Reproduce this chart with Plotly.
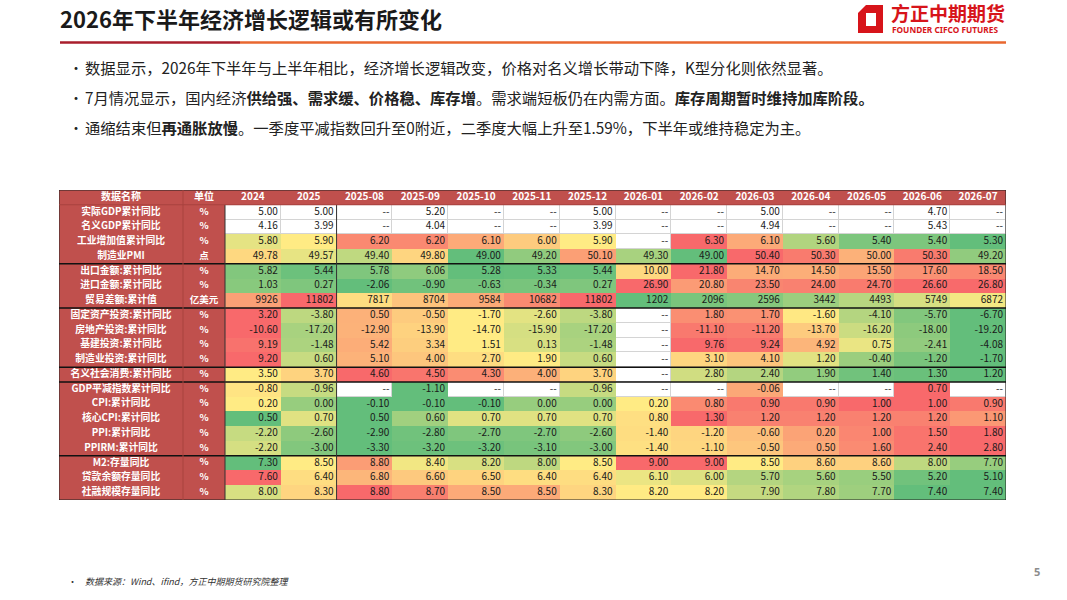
import numpy as np
import plotly.graph_objects as go

W, H = 1067, 600

# ---- data ----
periods = ["2024", "2025", "2025-08", "2025-09", "2025-10", "2025-11", "2025-12",
           "2026-01", "2026-02", "2026-03", "2026-04", "2026-05", "2026-06", "2026-07"]

indicators = ["实际GDP累计同比", "名义GDP累计同比", "工业增加值累计同比", "制造业PMI",
              "出口金额:累计同比", "进口金额:累计同比", "贸易差额:累计值",
              "固定资产投资:累计同比", "房地产投资:累计同比", "基建投资:累计同比", "制造业投资:累计同比",
              "名义社会消费:累计同比",
              "GDP平减指数累计同比", "CPI:累计同比", "核心CPI:累计同比", "PPI:累计同比", "PPIRM:累计同比",
              "M2:存量同比", "贷款余额存量同比", "社融规模存量同比"]
units = ["%", "%", "%", "点", "%", "%", "亿美元", "%", "%", "%", "%", "%",
         "%", "%", "%", "%", "%", "%", "%", "%"]

real_gdp = [5.00, 5.00, None, 5.20, None, None, 5.00, None, None, 5.00, None, None, 4.70, None]
nominal_gdp = [4.16, 3.99, None, 4.04, None, None, 3.99, None, None, 4.94, None, None, 5.43, None]
industry = [5.80, 5.90, 6.20, 6.20, 6.10, 6.00, 5.90, None, 6.30, 6.10, 5.60, 5.40, 5.40, 5.30]
pmi = [49.78, 49.57, 49.40, 49.80, 49.00, 49.20, 50.10, 49.30, 49.00, 50.40, 50.30, 50.00, 50.30, 49.20]
exports = [5.82, 5.44, 5.78, 6.06, 5.28, 5.33, 5.44, 10.00, 21.80, 14.70, 14.50, 15.50, 17.60, 18.50]
imports = [1.03, 0.27, -2.06, -0.90, -0.63, -0.34, 0.27, 26.90, 20.80, 23.50, 24.00, 24.70, 26.60, 26.80]
trade_balance = [9926, 11802, 7817, 8704, 9584, 10682, 11802, 1202, 2096, 2596, 3442, 4493, 5749, 6872]
fai = [3.20, -3.80, 0.50, -0.50, -1.70, -2.60, -3.80, None, 1.80, 1.70, -1.60, -4.10, -5.70, -6.70]
property_inv = [-10.60, -17.20, -12.90, -13.90, -14.70, -15.90, -17.20, None, -11.10, -11.20, -13.70, -16.20, -18.00, -19.20]
infra_inv = [9.19, -1.48, 5.42, 3.34, 1.51, 0.13, -1.48, None, 9.76, 9.24, 4.92, 0.75, -2.41, -4.08]
manu_inv = [9.20, 0.60, 5.10, 4.00, 2.70, 1.90, 0.60, None, 3.10, 4.10, 1.20, -0.40, -1.20, -1.70]
retail = [3.50, 3.70, 4.60, 4.50, 4.30, 4.00, 3.70, None, 2.80, 2.40, 1.90, 1.40, 1.30, 1.20]
deflator = [-0.80, -0.96, None, -1.10, None, None, -0.96, None, None, -0.06, None, None, 0.70, None]
cpi = [0.20, 0.00, -0.10, -0.10, -0.10, 0.00, 0.00, 0.20, 0.80, 0.90, 0.90, 1.00, 1.00, 0.90]
core_cpi = [0.50, 0.70, 0.50, 0.60, 0.70, 0.70, 0.70, 0.80, 1.30, 1.20, 1.20, 1.20, 1.20, 1.10]
ppi = [-2.20, -2.60, -2.90, -2.80, -2.70, -2.70, -2.60, -1.40, -1.20, -0.60, 0.20, 1.00, 1.50, 1.80]
ppirm = [-2.20, -3.00, -3.30, -3.20, -3.20, -3.10, -3.00, -1.40, -1.10, -0.50, 0.50, 1.60, 2.40, 2.80]
m2 = [7.30, 8.50, 8.80, 8.40, 8.20, 8.00, 8.50, 9.00, 9.00, 8.50, 8.60, 8.60, 8.00, 7.70]
loans = [7.60, 6.40, 6.80, 6.60, 6.50, 6.40, 6.40, 6.10, 6.00, 5.70, 5.60, 5.50, 5.20, 5.10]
tsf = [8.00, 8.30, 8.80, 8.70, 8.50, 8.50, 8.30, 8.20, 8.20, 7.90, 7.80, 7.70, 7.40, 7.40]

rows = [real_gdp, nominal_gdp, industry, pmi, exports, imports, trade_balance,
        fai, property_inv, infra_inv, manu_inv, retail,
        deflator, cpi, core_cpi, ppi, ppirm, m2, loans, tsf]
plain_rows = [0, 1]               # rows shown without colour scale
group_ends = [3, 6, 10, 11, 16]   # separator after these rows

# ---- styling ----
RED = "#C0504D"
scale = [[0, "#63BE7B"], [0.5, "#FFEB84"], [1, "#F8696B"]]
FONT = "Noto Sans CJK SC"


def px(x):
    return x / W


def py(y):
    return 1 - y / H


# table geometry in pixels
TX0, TX1, TY0, TY1 = 59, 1006, 190, 500
NAME_W, UNIT_W = 124, 42
DATA_W = (TX1 - TX0 - NAME_W - UNIT_W) / len(periods)
x_edges = [0, NAME_W, NAME_W + UNIT_W] + [NAME_W + UNIT_W + DATA_W * (k + 1) for k in range(len(periods))]
x_mid = [(a + b) / 2 for a, b in zip(x_edges[:-1], x_edges[1:])]
n_rows = len(rows) + 1
y_edges = list(range(n_rows + 1))

# per-row 3 colour scale: min green, median yellow, max red
z_scaled, z_blank, z_frame = [], [], []
val_x, val_y, val_t = [], [], []
z_frame.append([1] * (len(periods) + 2))
z_scaled.append([None] * (len(periods) + 2))
z_blank.append([None] * (len(periods) + 2))
for r, row in enumerate(rows):
    vals = np.array([v for v in row if v is not None], dtype=float)
    lo, mid, hi = vals.min(), np.percentile(vals, 50), vals.max()
    zs, zb = [None, None], [None, None]
    for c, v in enumerate(row):
        val_x.append(x_edges[c + 3] - 3)
        val_y.append(r + 1.5)
        if v is None:
            val_t.append("--")
        elif units[r] == "亿美元":
            val_t.append("%d" % v)
        else:
            val_t.append("%.2f" % v)
        if v is None or r in plain_rows:
            zs.append(None)
            zb.append(0)
            continue
        if v <= mid:
            t = 0.5 * (v - lo) / (mid - lo) if mid > lo else 0.5
        else:
            t = 0.5 + 0.5 * (v - mid) / (hi - mid) if hi > mid else 0.5
        zs.append(t)
        zb.append(None)
    z_scaled.append(zs)
    z_blank.append(zb)
    z_frame.append([1, 1] + [None] * len(periods))

fig = go.Figure()
fig.add_trace(go.Heatmap(x=x_edges, y=y_edges, z=z_frame, colorscale=[[0, RED], [1, RED]],
                         showscale=False, hoverinfo="skip"))
fig.add_trace(go.Heatmap(x=x_edges, y=y_edges, z=z_blank, colorscale=[[0, "white"], [1, "white"]],
                         showscale=False, hoverinfo="skip", xgap=1, ygap=1))
fig.add_trace(go.Heatmap(x=x_edges, y=y_edges, z=z_scaled, colorscale=scale, zmin=0, zmax=1,
                         showscale=False, hoverinfo="skip"))

# header text
fig.add_trace(go.Scatter(x=x_mid, y=[0.5] * len(x_mid), mode="text",
                         text=["<b>数据名称</b>", "<b>单位</b>"] + ["<b>%s</b>" % p for p in periods],
                         textfont=dict(family=FONT, size=10, color="white"), hoverinfo="skip"))
fig.add_trace(go.Scatter(x=[x_mid[0]] * len(indicators), y=[r + 1.5 for r in range(len(rows))],
                         mode="text", text=["<b>%s</b>" % n for n in indicators],
                         textfont=dict(family=FONT, size=9.8, color="white"), hoverinfo="skip"))
fig.add_trace(go.Scatter(x=[x_mid[1]] * len(units), y=[r + 1.5 for r in range(len(rows))],
                         mode="text", text=["<b>%s</b>" % u for u in units],
                         textfont=dict(family=FONT, size=9.5, color="white"), hoverinfo="skip"))
fig.add_trace(go.Scatter(x=val_x, y=val_y, mode="text", text=val_t, textposition="middle left",
                         textfont=dict(family=FONT, size=10, color="#1a1a1a"), hoverinfo="skip"))

shapes = []
# table outline and group separators (data coordinates)
shapes.append(dict(type="rect", xref="x", yref="y", x0=0, x1=x_edges[-1], y0=0, y1=n_rows,
                   line=dict(color="#222", width=1)))
for g in group_ends:
    shapes.append(dict(type="line", xref="x", yref="y", x0=0, x1=x_edges[-1], y0=g + 2, y1=g + 2,
                       line=dict(color="#111", width=1.5)))
for xx in [x_edges[2], x_edges[4]]:
    shapes.append(dict(type="line", xref="x", yref="y", x0=xx, x1=xx, y0=1, y1=n_rows,
                       line=dict(color="#333", width=1)))
shapes.append(dict(type="line", xref="x", yref="y", x0=x_edges[1], x1=x_edges[1], y0=0, y1=n_rows,
                   line=dict(color="#A8423F", width=1)))
shapes.append(dict(type="line", xref="x", yref="y", x0=0, x1=x_edges[-1], y0=1, y1=1,
                   line=dict(color="#A8423F", width=1)))

# title underline
shapes.append(dict(type="line", xref="paper", yref="paper", x0=px(60), x1=px(240),
                   y0=py(42.5), y1=py(42.5), line=dict(color="#A91E2C", width=2.5)))
shapes.append(dict(type="line", xref="paper", yref="paper", x0=px(240), x1=px(1006),
                   y0=py(42.5), y1=py(42.5), line=dict(color="#E9672F", width=2.5)))

# logo mark
path_outer = "M %f %f L %f %f L %f %f L %f %f L %f %f Z" % (
    px(866), py(5), px(883), py(5), px(883), py(33), px(858), py(33), px(858), py(13))
path_inner = "M %f %f L %f %f L %f %f L %f %f Z" % (
    px(866), py(13), px(876), py(13), px(876), py(26), px(866), py(26))
shapes.append(dict(type="path", xref="paper", yref="paper", path=path_outer,
                   fillcolor="#D7141A", line=dict(width=0)))
shapes.append(dict(type="path", xref="paper", yref="paper", path=path_inner,
                   fillcolor="white", line=dict(width=0)))

ann = []
ann.append(dict(text="<b>2026年下半年经济增长逻辑或有所变化</b>", x=px(58), y=py(18),
                font=dict(family=FONT, size=22, color="#1a1a1a")))
ann.append(dict(text="<b>方正中期期货</b>", x=px(889), y=py(12),
                font=dict(family=FONT, size=19, color="#D7141A")))
ann.append(dict(text="<b>FOUNDER CIFCO FUTURES</b>", x=px(890), y=py(29),
                font=dict(family="Noto Sans", size=8.3, color="#D7141A")))

bullets = [
    "数据显示，2026年下半年与上半年相比，经济增长逻辑改变，价格对名义增长带动下降，K型分化则依然显著。",
    "7月情况显示，国内经济<b>供给强、需求缓、价格稳、库存增</b>。需求端短板仍在内需方面。<b>库存周期暂时维持加库阶段。</b>",
    "通缩结束但<b>再通胀放慢</b>。一季度平减指数回升至0附近，二季度大幅上升至1.59%，下半年或维持稳定为主。",
]
for i, b in enumerate(bullets):
    yy = 67 + 30 * i
    ann.append(dict(text="•", x=px(67), y=py(yy), font=dict(family=FONT, size=14, color="#222")))
    ann.append(dict(text=b, x=px(83), y=py(yy), font=dict(family=FONT, size=15.3, color="#222")))

ann.append(dict(text="•", x=px(66), y=py(581), font=dict(family=FONT, size=9, color="#333")))
ann.append(dict(text="<i>数据来源：Wind、ifind，方正中期期货研究院整理</i>", x=px(83), y=py(581),
                font=dict(family=FONT, size=9, color="#333")))
ann.append(dict(text="<b>5</b>", x=px(1032), y=py(571),
                font=dict(family="Noto Sans", size=11, color="#8C8C8C")))

for a in ann:
    a.update(xref="paper", yref="paper", xanchor="left", yanchor="middle", showarrow=False)

fig.update_layout(
    width=W, height=H,
    margin=dict(l=0, r=0, t=0, b=0),
    paper_bgcolor="white", plot_bgcolor="#D4D4D4",
    shapes=shapes, annotations=ann,
    showlegend=False,
    xaxis=dict(domain=[px(TX0), px(TX1)], range=[0, x_edges[-1]], visible=False, fixedrange=True),
    yaxis=dict(domain=[py(TY1), py(TY0)], range=[n_rows, 0], visible=False, fixedrange=True),
)

fig.write_html("out.html", config={"displayModeBar": False},
               post_script="document.body.style.margin='0px';")
